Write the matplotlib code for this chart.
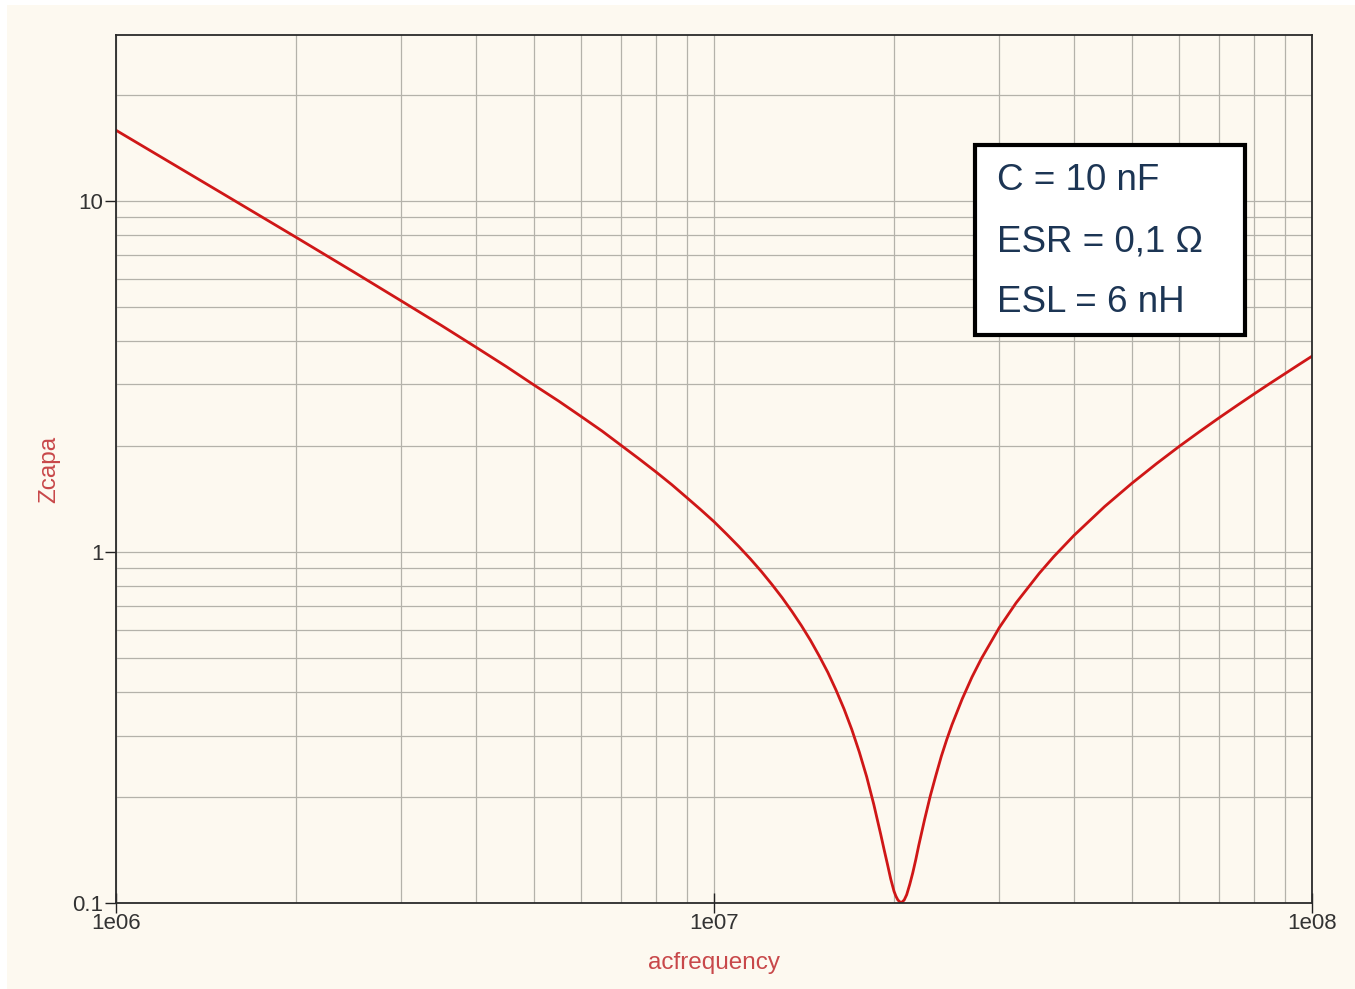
import matplotlib
matplotlib.use("Agg")
import matplotlib.pyplot as plt
from matplotlib.ticker import LogLocator, FixedLocator, NullFormatter
from matplotlib.patches import Rectangle

# Values (frequency in MHz, impedance in ohms)
freq_mhz = [1, 1.5, 2, 2.5, 3, 3.5, 4, 4.5, 5, 5.5, 6, 6.5, 7, 7.5, 8, 8.5,
            9, 9.5, 10, 10.5, 11, 11.5, 12, 12.5, 13, 13.5, 14, 14.5, 15,
            15.5, 16, 16.5, 17, 17.5, 18, 18.5, 19, 19.25, 19.5, 19.75, 20,
            20.15, 20.3, 20.55, 20.8, 21, 21.25, 21.5, 21.75, 22, 22.5, 23,
            23.5, 24, 24.5, 25, 26, 27, 28, 30, 32, 35, 37, 40, 45, 50, 55,
            60, 65, 70, 75, 80, 85, 90, 95, 100]
zcapa = [15.9, 10.55, 7.88, 6.27, 5.19, 4.42, 3.83, 3.37, 2.99, 2.69, 2.43,
         2.21, 2.01, 1.84, 1.69, 1.555, 1.43, 1.32, 1.22, 1.124, 1.037, 0.956,
         0.880, 0.808, 0.741, 0.677, 0.617, 0.560, 0.505, 0.454, 0.404,
         0.357, 0.312, 0.269, 0.229, 0.191, 0.157, 0.142, 0.129, 0.117,
         0.108, 0.1045, 0.102, 0.100, 0.102, 0.1056, 0.113, 0.122, 0.133,
         0.146, 0.173, 0.202, 0.231, 0.262, 0.292, 0.322, 0.381, 0.440,
         0.497, 0.609, 0.716, 0.870, 0.970, 1.115, 1.347, 1.570, 1.787, 2.00,
         2.208, 2.414, 2.617, 2.819, 3.019, 3.216, 3.415, 3.612]
x_ticks = [1e6, 1e7, 1e8]
x_ticklabels = ["1e06", "1e07", "1e08"]
y_ticks = [0.1, 1, 10]
y_ticklabels = ["0.1", "1", "10"]
box_lines = ["C = 10 nF", "ESR = 0,1 Ω", "ESL = 6 nH"]

freq = [f * 1e6 for f in freq_mhz]

plt.rcParams['font.family'] = ['Liberation Sans', 'DejaVu Sans']
bg = "#fdf9f0"
W, H = 1355, 989
fig = plt.figure(figsize=(W/100, H/100), dpi=100, facecolor="white")
fig.patches.append(Rectangle((7/W, -0.01), 1.02, 1.01 - 5/H,
                             transform=fig.transFigure,
                             facecolor=bg, edgecolor="none", zorder=-10))
ax = fig.add_axes([116/W, 1-903/H, (1312-116)/W, (903-35)/H])
ax.set_facecolor(bg)
ax.set_xscale("log")
ax.set_yscale("log")
ax.set_xlim(1e6, 1e8)
ax.set_ylim(0.1, 29.7)

ax.plot(freq, zcapa, color="#cf1717", lw=2.0, solid_joinstyle="round")

ax.xaxis.set_major_locator(FixedLocator(x_ticks))
ax.set_xticklabels(x_ticklabels)
ax.yaxis.set_major_locator(FixedLocator(y_ticks))
ax.set_yticklabels(y_ticklabels)
ax.xaxis.set_minor_locator(LogLocator(base=10, subs=range(2, 10), numticks=20))
ax.yaxis.set_minor_locator(LogLocator(base=10, subs=range(2, 10), numticks=20))
ax.xaxis.set_minor_formatter(NullFormatter())
ax.yaxis.set_minor_formatter(NullFormatter())

ax.grid(True, which="both", color="#b4b2aa", lw=0.9)
ax.set_axisbelow(True)
ax.tick_params(which="minor", length=0)
ax.tick_params(axis="y", which="major", direction="out", length=8, width=1,
               color="#222222", labelsize=16, labelcolor="#333333", pad=1)
ax.tick_params(axis="x", which="major", direction="inout", length=14, width=1,
               color="#222222", labelsize=16, labelcolor="#333333", pad=0.5)
for s in ax.spines.values():
    s.set_color("#2a2a2a")
    s.set_linewidth(1.3)

ax.set_xlabel("acfrequency", color="#c8484a", fontsize=17.5, labelpad=13)
ax.set_ylabel("Zcapa", color="#c8484a", fontsize=17.5, labelpad=9)

# annotation box
bx0, by0, bx1, by1 = 975, 145, 1245, 335
fig.patches.append(Rectangle((bx0/W, 1-by1/H), (bx1-bx0)/W, (by1-by0)/H,
                             transform=fig.transFigure, facecolor="white",
                             edgecolor="black", lw=3, zorder=5))
for i, t in enumerate(box_lines):
    fig.text(997/W, 1-(180 + i*61.5)/H, t, fontsize=26.5, color="#1c3554",
             va="center", ha="left", zorder=6)

fig.savefig("out.png", dpi=100, facecolor="white")
